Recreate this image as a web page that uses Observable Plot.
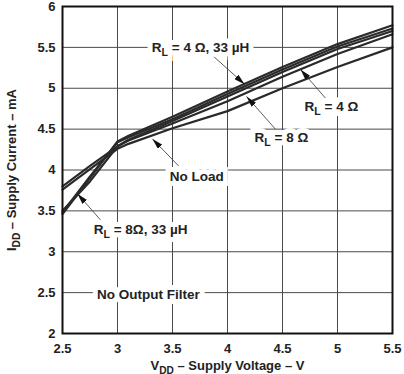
<!DOCTYPE html>
<html>
<head>
<meta charset="utf-8">
<script src="https://cdn.jsdelivr.net/npm/d3@7"></script>
<script src="https://cdn.jsdelivr.net/npm/@observablehq/plot@0.6"></script>
<style>
  html, body { margin: 0; padding: 0; background: #fff; }
  #chart svg { font-family: "Liberation Sans", Arial, Helvetica, sans-serif; }
</style>
</head>
<body>
<div id="chart"></div>
<script>
// ---- data ----
const vdd      = [2.5, 2.75, 3.0, 3.1, 3.5, 4.0, 4.5, 5.0, 5.5];
const noLoad   = [3.76, 4.01, 4.26, 4.32, 4.51, 4.72, 5.00, 5.26, 5.50];
const rl8      = [3.80, 4.05, 4.29, 4.36, 4.57, 4.84, 5.14, 5.42, 5.66];
const rl4      = [3.50, 3.86, 4.29, 4.37, 4.60, 4.90, 5.20, 5.48, 5.70];
const rl8f     = [3.48, 3.92, 4.34, 4.40, 4.62, 4.93, 5.23, 5.51, 5.73];
const rl4f     = [3.46, 3.90, 4.35, 4.42, 4.65, 4.96, 5.26, 5.54, 5.77];
const seriesNames = ["No Load", "RL = 8 Ω", "RL = 4 Ω", "RL = 8 Ω, 33 µH", "RL = 4 Ω, 33 µH"];
const seriesValues = [noLoad, rl8, rl4, rl8f, rl4f];

const xTicks = [2.5, 3, 3.5, 4, 4.5, 5, 5.5];
const xTickLabels = ["2.5", "3", "3.5", "4", "4.5", "5", "5.5"];
const yTicks = [2, 2.5, 3, 3.5, 4, 4.5, 5, 5.5, 6];
const yTickLabels = ["2", "2.5", "3", "3.5", "4", "4.5", "5", "5.5", "6"];

// annotation labels (text, x, y) and arrows (from -> tip)
const labelTexts = ["R_{L} = 4 Ω, 33 µH", "R_{L} = 4 Ω", "R_{L} = 8 Ω", "No Load", "R_{L} = 8Ω, 33 µH", "No Output Filter"];
const labelX = [3.755, 4.945, 4.49, 3.72, 3.21, 3.28];
const labelY = [5.50, 4.77, 4.39, 3.915, 3.27, 2.476];
const arrowX1 = [3.873, 4.89, 4.436, 3.555, 2.845];
const arrowY1 = [5.39, 4.88, 4.50, 4.05, 3.39];
const arrowX2 = [4.155, 4.664, 4.173, 3.318, 2.636];
const arrowY2 = [5.05, 5.23, 4.90, 4.38, 3.71];

// ---- build tables ----
const lines = [];
seriesNames.forEach((name, s) => {
  vdd.forEach((v, i) => lines.push({series: name, v, i: seriesValues[s][i]}));
});
const labels = labelTexts.map((t, k) => ({t, x: labelX[k], y: labelY[k]}));
const arrows = arrowX1.map((_, k) => ({x1: arrowX1[k], y1: arrowY1[k], x2: arrowX2[k], y2: arrowY2[k]}));

const textOpts = {x: "x", y: "y", text: "t", fontSize: 13.5, fontWeight: "bold", textAnchor: "middle"};

const chart = Plot.plot({
  width: 404,
  height: 374,
  marginLeft: 62,
  marginRight: 12,
  marginTop: 6,
  marginBottom: 41,
  style: {background: "#fff", color: "#222", fontSize: "13px", fontWeight: "bold", fontFamily: "'Liberation Sans', Arial, sans-serif"},
  x: {domain: [2.5, 5.5], ticks: xTicks, tickFormat: (d) => xTickLabels[xTicks.indexOf(d)], tickSize: 0, tickPadding: 10,
      label: "V_{DD} – Supply Voltage – V", labelAnchor: "center", labelOffset: 36, labelArrow: "none"},
  y: {domain: [2, 6], ticks: yTicks, tickFormat: (d) => yTickLabels[yTicks.indexOf(d)], tickSize: 0, tickPadding: 7,
      label: "I_{DD} – Supply Current – mA", labelAnchor: "center", labelOffset: 56, labelArrow: "none"},
  marks: [
    Plot.gridX(xTicks, {stroke: "#4a4a4a", strokeOpacity: 1, strokeWidth: 1}),
    Plot.gridY(yTicks, {stroke: "#4a4a4a", strokeOpacity: 1, strokeWidth: 1}),
    Plot.line(lines, {x: "v", y: "i", z: "series", stroke: "#2a2a2a", strokeWidth: 2.2}),
    Plot.link(arrows, {x1: "x1", y1: "y1", x2: "x2", y2: "y2", stroke: "#333", strokeWidth: 0.8}),
    // white background behind each label
    Plot.text(labels, {...textOpts, fill: "white", stroke: "white", strokeWidth: 10, strokeLinejoin: "miter"}),
    // the label text itself
    Plot.text(labels, {...textOpts, fill: "#222"}),
    Plot.frame({stroke: "#111", strokeWidth: 2})
  ]
});

// filled arrowheads
const svg = d3.select(chart.tagName.toLowerCase() === "svg" ? chart : chart.querySelector("svg"));
svg.insert("defs", ":first-child").append("marker")
  .attr("id", "ahead").attr("viewBox", "0 0 11 6").attr("refX", 11).attr("refY", 3)
  .attr("markerWidth", 11).attr("markerHeight", 6).attr("markerUnits", "userSpaceOnUse").attr("orient", "auto")
  .append("path").attr("d", "M0,0L11,3L0,6Z").attr("fill", "#111");
svg.selectAll('g[aria-label="link"] path').attr("marker-end", "url(#ahead)");

// subscripts written as _{..}
svg.selectAll("text").each(function() {
  if (this.childElementCount > 0) return;
  const s = this.textContent;
  if (!s.includes("_{")) return;
  this.textContent = "";
  const re = /_\{([^}]*)\}/g;
  let last = 0, m;
  const sel = d3.select(this);
  let shifted = false;
  while ((m = re.exec(s))) {
    if (m.index > last) {
      const t = sel.append("tspan").text(s.slice(last, m.index));
      if (shifted) { t.attr("dy", -4); shifted = false; }
    }
    sel.append("tspan").attr("dy", 4).attr("font-size", "78%").text(m[1]);
    shifted = true;
    last = re.lastIndex;
  }
  if (last < s.length) {
    const t = sel.append("tspan").text(s.slice(last));
    if (shifted) t.attr("dy", -4);
  }
});

document.getElementById("chart").append(chart);
</script>
</body>
</html>
